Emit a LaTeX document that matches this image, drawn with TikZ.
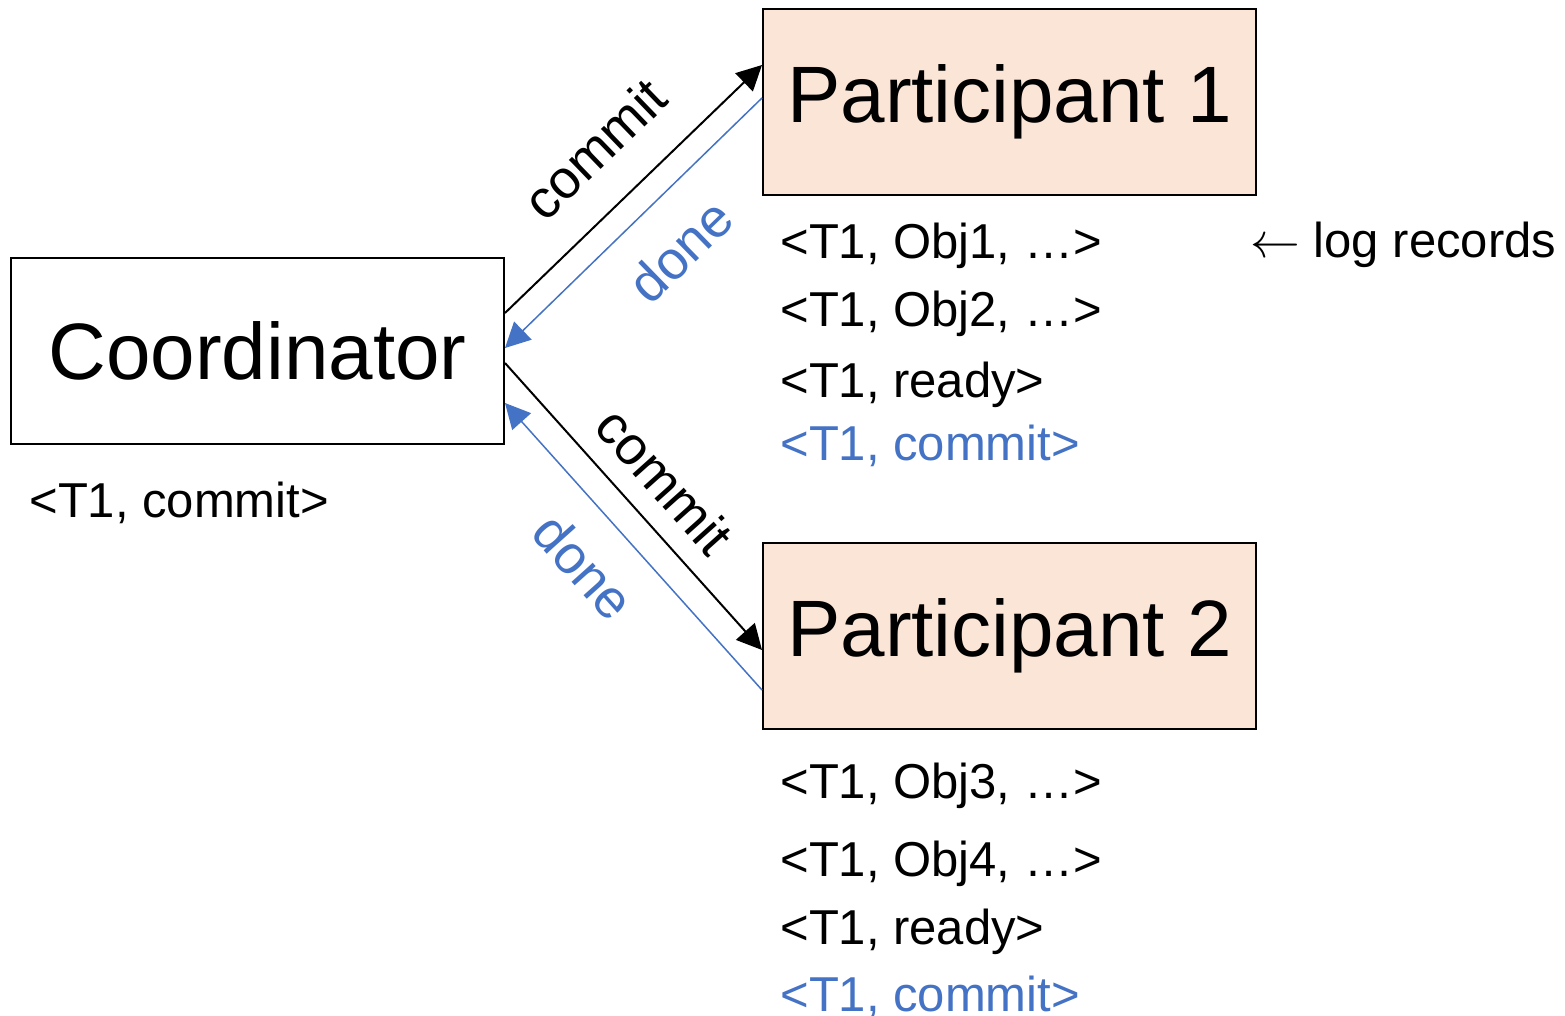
\documentclass[tikz,border=0pt]{standalone}
\usepackage{fontspec}
\setmainfont{Liberation Sans}
\usetikzlibrary{arrows.meta}
\definecolor{doneblue}{HTML}{4472C4}
\definecolor{peach}{HTML}{FBE5D6}
\tikzset{
	site/.style={draw,line width=1pt,minimum width=246.5pt,minimum height=93pt,inner sep=0pt,font=\fontsize{40}{48}\selectfont},
	logrec/.style={anchor=base west,inner sep=0pt,font=\fontsize{24.5}{29}\selectfont},
	msg/.style={line width=1pt,-{Triangle[length=12.5pt,width=12.5pt]}},
	ack/.style={doneblue,line width=0.75pt,-{Triangle[length=12.5pt,width=12.5pt]}},
	lbl/.style={sloped,inner sep=0pt,font=\fontsize{27}{32}\selectfont}
}
\begin{document}
\begin{tikzpicture}[x=0.5pt,y=-0.5pt]
			\useasboundingbox (0,0) rectangle (1565,1016);
			% cac nut
			\node[site] (coord) at (257.5,351) {Coordinator};
			\node[site,fill=peach] (part1) at (1009.5,102) {Participant 1};
			\node[site,fill=peach] (part2) at (1009.5,636) {Participant 2};
			% thong diep
			\draw[msg] ([yshift=19pt]coord.east) -- ([yshift=18.5pt]part1.west)
				node[lbl,pos=0.5,above=17.5pt] {commit};
			\draw[ack] ([yshift=2pt]part1.west) -- ([yshift=1.5pt]coord.east)
				node[lbl,pos=0.46,below=16pt,doneblue] {done};
			\draw[msg] ([yshift=-6pt]coord.east) -- ([yshift=-7pt]part2.west)
				node[lbl,pos=0.505,above=10pt] {commit};
			\draw[ack] ([yshift=-27pt]part2.west) -- ([yshift=-26pt]coord.east)
				node[lbl,pos=0.547,below=15pt,doneblue] {done};
			% nhat ky
			\node[logrec] (clog) at (29,517) {<T1, commit>};
			\node[logrec] (p1a) at (780,259) {<T1, Obj1, …>};
			\node[logrec] (p1b) at (780,327) {<T1, Obj2, …>};
			\node[logrec] (p1c) at (780,398) {<T1, ready>};
			\node[logrec,doneblue] (p1d) at (780,460) {<T1, commit>};
			\node[logrec] (p2a) at (780,798) {<T1, Obj3, …>};
			\node[logrec] (p2b) at (780,876) {<T1, Obj4, …>};
			\node[logrec] (p2c) at (780,944) {<T1, ready>};
			\node[logrec,doneblue] (p2d) at (780,1011) {<T1, commit>};
			\node[logrec] (note) at (1250,258) {$\leftarrow$ log records};
		\end{tikzpicture}
\end{document}
